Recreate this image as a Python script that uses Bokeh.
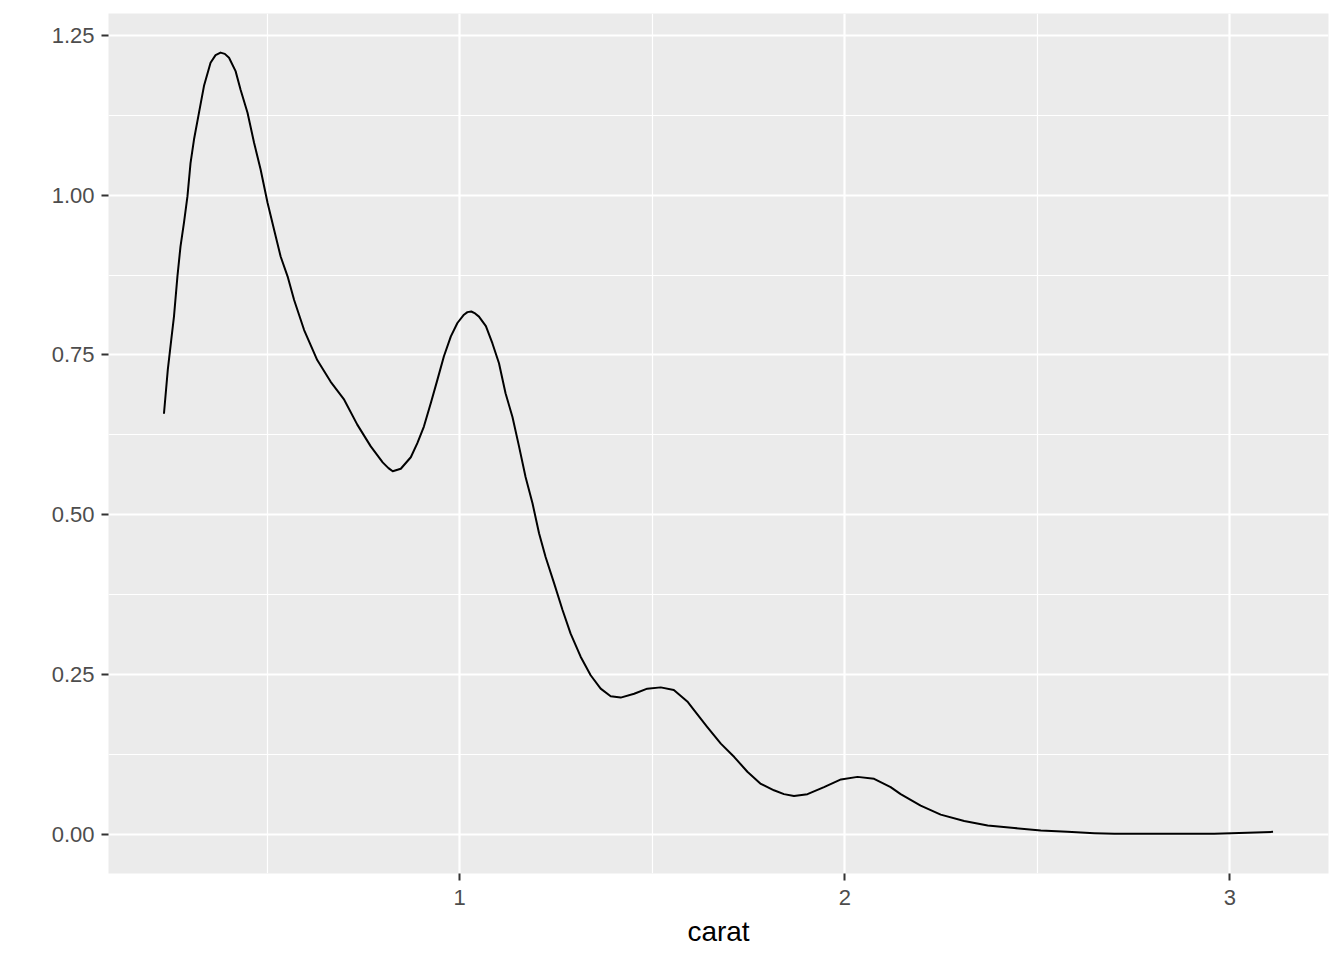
from bokeh.plotting import figure
from bokeh.models import Range1d, FixedTicker, ColumnDataSource
from bokeh.embed import file_html
from bokeh.resources import INLINE

# Density curve of carat
carat = [0.232, 0.242, 0.251, 0.258, 0.267, 0.275, 0.284, 0.293, 0.301, 0.310,
         0.323, 0.336, 0.353, 0.366, 0.379, 0.390, 0.401, 0.418, 0.431, 0.449,
         0.466, 0.483, 0.501, 0.518, 0.535, 0.553, 0.570, 0.596, 0.630, 0.665,
         0.700, 0.734, 0.769, 0.800, 0.815, 0.826, 0.847, 0.873, 0.890, 0.907,
         0.925, 0.942, 0.959, 0.977, 0.994, 1.011, 1.020, 1.030, 1.040, 1.050,
         1.068, 1.085, 1.102, 1.119, 1.137, 1.154, 1.171, 1.189, 1.206, 1.223,
         1.245, 1.267, 1.288, 1.314, 1.340, 1.366, 1.392, 1.418, 1.453, 1.487,
         1.522, 1.556, 1.591, 1.609, 1.643, 1.678, 1.713, 1.747, 1.782, 1.816,
         1.842, 1.868, 1.903, 1.946, 1.990, 2.033, 2.076, 2.119, 2.145, 2.197,
         2.249, 2.310, 2.371, 2.440, 2.509, 2.578, 2.648, 2.700, 2.829, 2.959,
         3.003, 3.112]
density = [0.658, 0.727, 0.774, 0.810, 0.873, 0.920, 0.957, 0.998, 1.050, 1.087,
           1.129, 1.171, 1.207, 1.219, 1.223, 1.221, 1.215, 1.194, 1.165, 1.129,
           1.082, 1.040, 0.988, 0.946, 0.904, 0.873, 0.836, 0.789, 0.742, 0.708,
           0.680, 0.641, 0.607, 0.582, 0.573, 0.568, 0.572, 0.590, 0.612, 0.638,
           0.675, 0.711, 0.748, 0.779, 0.800, 0.813, 0.817, 0.818, 0.815, 0.810,
           0.795, 0.768, 0.737, 0.690, 0.653, 0.607, 0.559, 0.518, 0.471, 0.434,
           0.393, 0.351, 0.314, 0.278, 0.249, 0.228, 0.216, 0.214, 0.220, 0.228,
           0.230, 0.226, 0.208, 0.194, 0.168, 0.142, 0.121, 0.098, 0.079, 0.069,
           0.063, 0.060, 0.063, 0.074, 0.086, 0.090, 0.087, 0.074, 0.063, 0.045,
           0.031, 0.021, 0.014, 0.010, 0.006, 0.004, 0.002, 0.001, 0.001, 0.001,
           0.002, 0.004]

x_ticks = [1, 2, 3]
x_minor = [0.5, 1.5, 2.5]
y_ticks = [0.0, 0.25, 0.5, 0.75, 1.0, 1.25]
y_minor = [0.125, 0.375, 0.625, 0.875, 1.125]
y_labels = {0.0: "0.00", 0.25: "0.25", 0.5: "0.50", 0.75: "0.75", 1.0: "1.00", 1.25: "1.25"}

xmin, xmax = min(carat), max(carat)
xpad = (xmax - xmin) * 0.05
ymin, ymax = 0.0, max(density)
ypad = (ymax - ymin) * 0.05

p = figure(width=1336, height=960, output_backend="svg", toolbar_location=None,
           x_range=Range1d(xmin - xpad, xmax + xpad),
           y_range=Range1d(ymin - ypad, ymax + ypad),
           min_border_left=108, min_border_right=8, min_border_top=13,
           min_border_bottom=87)

p.background_fill_color = "#EBEBEB"
p.border_fill_color = "white"
p.outline_line_color = None

src = ColumnDataSource(dict(x=carat, y=density))
p.line("x", "y", source=src, line_color="black", line_width=2,
       line_join="round")

p.xaxis.ticker = FixedTicker(ticks=x_ticks, minor_ticks=x_minor)
p.yaxis.ticker = FixedTicker(ticks=y_ticks, minor_ticks=y_minor)
p.yaxis.major_label_overrides = y_labels

for g in (p.xgrid[0], p.ygrid[0]):
    g.grid_line_color = "white"
    g.grid_line_width = 2.2
    g.minor_grid_line_color = "white"
    g.minor_grid_line_width = 1.2

for ax in (p.xaxis[0], p.yaxis[0]):
    ax.axis_line_color = None
    ax.major_tick_line_color = "#333333"
    ax.major_tick_line_width = 2
    ax.major_tick_out = 7
    ax.major_tick_in = 0
    ax.minor_tick_line_color = None
    ax.major_label_text_font = "Liberation Sans"
    ax.major_label_text_font_size = "22px"
    ax.major_label_text_color = "#4D4D4D"

p.xaxis.major_label_standoff = 9
p.yaxis.major_label_standoff = 7
p.xaxis.axis_label = "carat"
p.xaxis.axis_label_text_font = "Liberation Sans"
p.xaxis.axis_label_text_font_size = "28px"
p.xaxis.axis_label_text_font_style = "normal"
p.xaxis.axis_label_text_color = "black"
p.xaxis.axis_label_standoff = 8

open("out.html", "w").write(file_html(p, INLINE))
